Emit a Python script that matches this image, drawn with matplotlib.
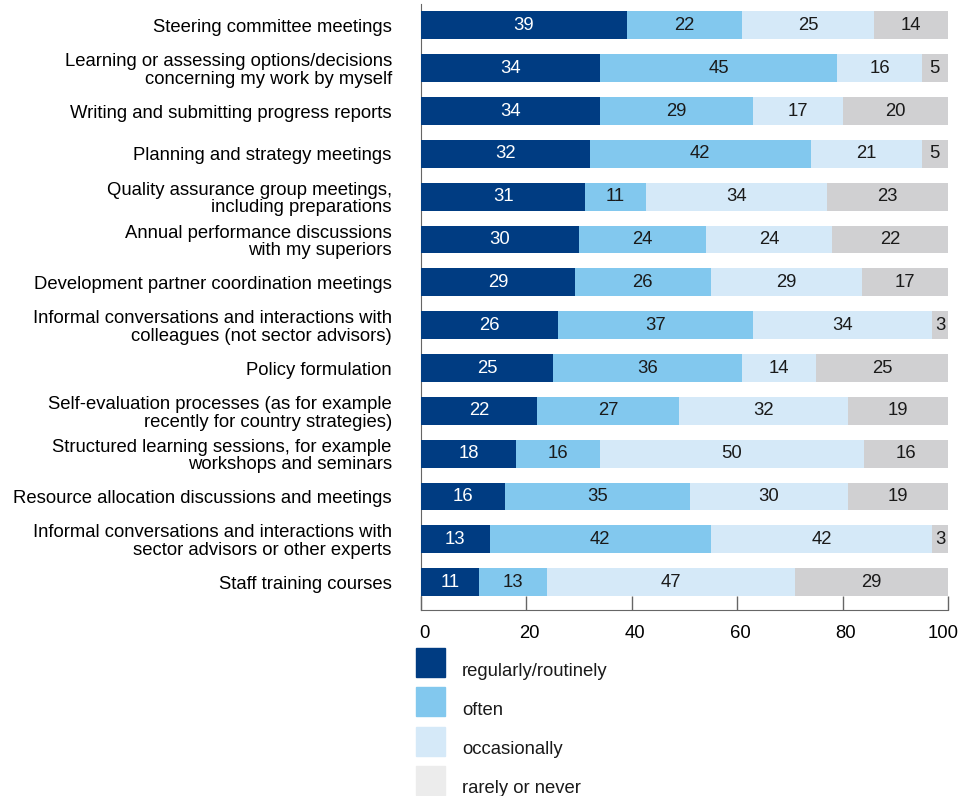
import matplotlib.pyplot as plt
from matplotlib.patches import Rectangle
from matplotlib.transforms import ScaledTranslation

plt.rcParams["font.family"] = ["Liberation Sans", "DejaVu Sans"]

activities = [
    "Steering committee meetings",
    "Learning or assessing options/decisions\nconcerning my work by myself",
    "Writing and submitting progress reports",
    "Planning and strategy meetings",
    "Quality assurance group meetings,\nincluding preparations",
    "Annual performance discussions\nwith my superiors",
    "Development partner coordination meetings",
    "Informal conversations and interactions with\ncolleagues (not sector advisors)",
    "Policy formulation",
    "Self-evaluation processes (as for example\nrecently for country strategies)",
    "Structured learning sessions, for example\nworkshops and seminars",
    "Resource allocation discussions and meetings",
    "Informal conversations and interactions with\nsector advisors or other experts",
    "Staff training courses",
]
# shares in percent (labels shown rounded)
regularly = [39, 34, 34, 32, 31.2, 30, 29.2, 26, 25, 22, 18, 16, 13, 11]
often = [22, 45, 29, 42, 11.4, 24, 25.8, 37, 36, 27, 16, 35, 42, 13]
occasionally = [25, 16, 17, 21, 34.4, 24, 28.6, 34, 14, 32, 50, 30, 42, 47]
rarely = [14, 5, 20, 5, 23.0, 22, 16.6, 3, 25, 19, 16, 19, 3, 29]

series = [
    ("regularly/routinely", regularly, "#003c82", "white"),
    ("often", often, "#82c8ee", "#1a1a1a"),
    ("occasionally", occasionally, "#d5e9f8", "#1a1a1a"),
    ("rarely or never", rarely, "#d0d0d2", "#1a1a1a"),
]
legend_colors = ["#003c82", "#82c8ee", "#d5e9f8", "#ececec"]

fs = 13.3

fig = plt.figure(figsize=(9.58, 7.96), dpi=100)
ax = fig.add_axes([421 / 958, 186 / 796, 527 / 958, 606 / 796])

ypos = list(range(len(activities)))
left = [0] * len(activities)
for name, vals, color, tcol in series:
    bars = ax.barh(ypos, vals, left=left, height=0.65, color=color, zorder=3)
    for b, v in zip(bars, vals):
        x0 = b.get_x()
        x1 = min(x0 + b.get_width(), 100)
        ax.text((x0 + x1) / 2, b.get_y() + b.get_height() / 2, f"{v:.0f}",
                ha="center", va="center", color=tcol, fontsize=fs, zorder=4)
    left = [l + v for l, v in zip(left, vals)]

ax.set_xlim(0, 100)
ax.set_ylim(13.65, -0.5)
ax.set_yticks(ypos)
ax.set_yticklabels(activities, fontsize=fs, linespacing=1.05)
ax.tick_params(axis="y", length=0, pad=21)
ax.set_xticks([0, 20, 40, 60, 80, 100])
ax.tick_params(axis="x", direction="in", length=10, width=1, color="#666666",
               labelsize=fs, pad=11)
for s in ["top", "right"]:
    ax.spines[s].set_visible(False)
for s in ["left", "bottom"]:
    ax.spines[s].set_color("#666666")
    ax.spines[s].set_zorder(1)

# nudge the tick labels like the original
xlabels = ax.get_xticklabels()
for i, lab in enumerate(xlabels):
    dx = -5 if i == len(xlabels) - 1 else 3
    lab.set_transform(lab.get_transform() + ScaledTranslation(dx / 100, 0, fig.dpi_scale_trans))

# legend drawn below the axis
for i, (name, _, _, _) in enumerate(series):
    y0 = 796 - (648 + 39.3 * i) - 29
    fig.add_artist(Rectangle((416 / 958, y0 / 796), 29 / 958, 29 / 796,
                             transform=fig.transFigure,
                             color=legend_colors[i]))
    fig.text(462 / 958, (y0 + 6) / 796, name, fontsize=fs, va="center",
             ha="left", color="#1a1a1a")

fig.savefig("out.png", dpi=100)
